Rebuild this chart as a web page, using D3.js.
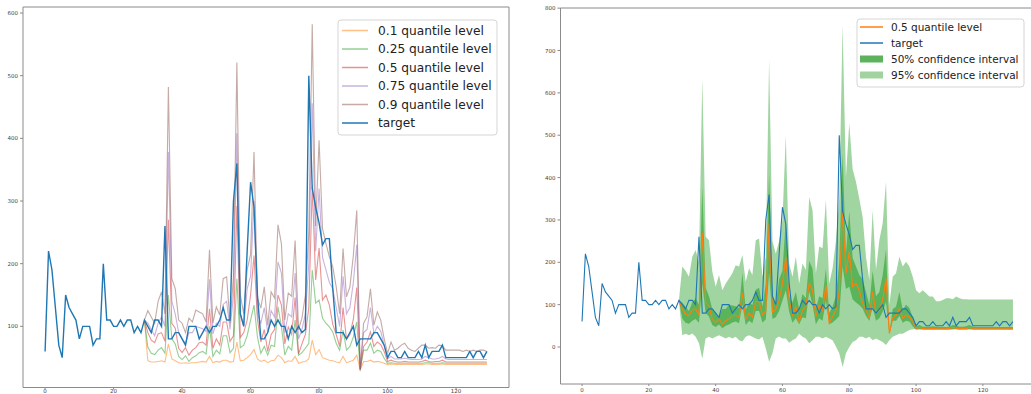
<!DOCTYPE html>
<html>
<head>
<meta charset="utf-8">
<script src="https://cdn.jsdelivr.net/npm/d3@7"></script>
<style>
  body { margin: 0; background: #fff; }
  svg { display: block; font-family: "DejaVu Sans", sans-serif; }
</style>
</head>
<body>
<svg id="chart" width="1031" height="394"></svg>
<script>
// observed series, t = 0..129
const target = [
  60, 220, 190, 130, 70, 50, 150, 130, 120, 110,
  80, 100, 100, 100, 70, 80, 80, 200, 110, 110,
  100, 100, 110, 100, 110, 110, 90, 100, 90, 110,
  100, 90, 110, 110, 100, 260, 80, 80, 90, 90,
  80, 70, 100, 100, 100, 80, 90, 100, 90, 100,
  100, 110, 130, 110, 110, 300, 360, 120, 100, 220,
  330, 290, 150, 80, 80, 90, 110, 100, 110, 100,
  100, 80, 100, 90, 100, 90, 95, 500, 320, 290,
  265, 230, 240, 240, 160, 90, 90, 90, 80, 90,
  100, 70, 80, 80, 80, 80, 90, 90, 80, 70,
  50, 60, 60, 50, 50, 60, 50, 50, 50, 60,
  50, 70, 50, 60, 60, 60, 70, 50, 50, 50,
  50, 50, 50, 50, 60, 50, 60, 60, 50, 60
];

// forecast starts at t = 29
const forecastStart = 29;

const q10 = [
  110, 45, 43, 43, 44, 45, 43, 72, 48, 45,
  42, 41, 42, 41, 42, 42, 43, 44, 43, 52,
  42, 44, 43, 46, 46, 43, 44, 75, 45, 46,
  50, 55, 63, 48, 44, 46, 42, 45, 46, 54,
  50, 42, 45, 44, 52, 41, 43, 44, 48, 78,
  55, 63, 50, 48, 46, 45, 43, 42, 52, 42,
  44, 46, 54, 30, 44, 44, 46, 43, 44, 43,
  41, 39, 40, 39, 39, 39, 39, 39, 39, 39,
  39, 39, 40, 40, 39, 39, 39, 40, 39, 39,
  39, 39, 39, 39, 39, 39, 39, 39, 39, 39, 39
];
const q25 = [
  110, 67, 57, 55, 62, 66, 57, 150, 80, 72,
  52, 47, 53, 44, 50, 53, 58, 60, 56, 100,
  52, 62, 56, 85, 85, 58, 65, 176, 66, 70,
  85, 110, 134, 83, 57, 68, 54, 70, 68, 131,
  100, 54, 68, 62, 110, 54, 58, 65, 73, 190,
  137, 142, 113, 105, 99, 91, 73, 62, 94, 62,
  68, 83, 107, 30, 62, 62, 73, 57, 62, 60,
  49, 41, 42, 41, 41, 41, 41, 41, 41, 41,
  41, 41, 42, 42, 41, 41, 41, 42, 41, 41,
  41, 41, 41, 41, 41, 41, 41, 41, 41, 41, 41
];
const q50 = [
  110, 90, 78, 74, 88, 90, 76, 270, 105, 97,
  65, 58, 66, 54, 62, 66, 74, 75, 70, 128,
  65, 80, 70, 107, 107, 76, 85, 292, 82, 90,
  110, 150, 213, 111, 75, 95, 60, 87, 95, 150,
  134, 72, 99, 87, 146, 56, 72, 87, 130, 323,
  174, 225, 142, 150, 134, 103, 87, 68, 130, 79,
  87, 111, 162, 32, 68, 75, 91, 68, 75, 71,
  60, 44, 46, 44, 43, 43, 44, 43, 43, 43,
  43, 44, 46, 44, 43, 44, 44, 46, 43, 43,
  43, 43, 43, 43, 43, 43, 43, 43, 43, 43, 43
];
const q75 = [
  110, 105, 95, 85, 105, 115, 100, 378, 140, 120,
  90, 80, 72, 90, 90, 100, 98, 96, 92, 175,
  88, 105, 100, 135, 140, 95, 150, 408, 120, 100,
  160, 180, 300, 120, 105, 130, 90, 125, 115, 203,
  185, 90, 120, 115, 185, 80, 95, 120, 200, 456,
  220, 320, 210, 190, 170, 160, 130, 100, 180, 120,
  130, 170, 230, 32, 90, 95, 130, 88, 100, 92,
  70, 48, 52, 48, 48, 48, 49, 48, 47, 47,
  47, 48, 52, 50, 48, 48, 49, 52, 48, 47,
  47, 47, 47, 47, 47, 47, 47, 47, 47, 47, 47
];
const q90 = [
  110, 125, 115, 105, 140, 155, 120, 482, 176, 160,
  110, 105, 90, 113, 107, 126, 123, 120, 107, 222,
  105, 131, 118, 176, 179, 105, 180, 521, 150, 120,
  190, 215, 378, 145, 129, 163, 102, 155, 145, 262,
  232, 110, 153, 148, 237, 95, 113, 150, 250, 582,
  260, 397, 256, 232, 211, 195, 163, 120, 224, 147,
  163, 213, 285, 30, 105, 115, 160, 102, 123, 110,
  80, 57, 75, 62, 65, 70, 73, 65, 62, 60,
  65, 70, 70, 65, 66, 65, 70, 69, 62, 62,
  62, 62, 62, 60, 62, 60, 62, 60, 62, 62, 60
];

// 95% interval bounds (right panel)
const ci95Low = [
  110, 28, 31, 28, 32, 24, 9, -27, 20, 24,
  20, 24, 28, 24, 20, 24, 20, 24, 16, 13,
  24, 28, 24, 20, 18, 24, -3, -35, -15, 20,
  25, 20, 20, 10, 16, 20, 31, 24, 20, 9,
  16, 24, 24, 20, 24, 20, 16, 1, -15, -47,
  -15, 0, 12, 16, 24, 24, 20, 24, 16, 20,
  16, 12, 5, 16, 24, 28, 31, 31, 36, 40,
  42, 42, 42, 42, 42, 42, 42, 42, 42, 42,
  42, 42, 42, 42, 42, 42, 42, 42, 42, 42,
  42, 42, 42, 42, 42, 42, 42, 42, 42, 42, 42
];
const ci95High = [
  110, 190, 180, 166, 213, 229, 200, 634, 260, 252,
  178, 142, 170, 134, 150, 162, 174, 193, 190, 217,
  154, 186, 170, 252, 256, 166, 213, 679, 250, 220,
  250, 300, 500, 197, 166, 213, 150, 197, 182, 354,
  323, 174, 237, 233, 347, 150, 186, 250, 350, 760,
  400, 528, 420, 390, 350, 307, 213, 158, 323, 182,
  252, 292, 390, 100, 166, 174, 213, 190, 201, 190,
  166, 134, 127, 134, 127, 119, 119, 108, 108, 111,
  115, 115, 113, 119, 115, 113, 113, 112, 112, 112,
  112, 112, 112, 112, 112, 112, 112, 112, 112, 112, 112
];

const xTicks = [0, 20, 40, 60, 80, 100, 120];
const yTicksLeft = [100, 200, 300, 400, 500, 600];
const yTicksRight = [0, 100, 200, 300, 400, 500, 600, 700, 800];

const quantileLabels = ['0.1 quantile level', '0.25 quantile level', '0.5 quantile level',
  '0.75 quantile level', '0.9 quantile level'];
const quantileColors = ['#ff7f0e', '#2ca02c', '#d62728', '#9467bd', '#8c564b'];
const blue = '#1f77b4';
const green = '#2ca02c';

const svg = d3.select('#chart');
const tT = d3.range(target.length);
const tF = d3.range(forecastStart, forecastStart + q50.length);

// matplotlib-like limits: data range plus 5% margins
function padded(ext) {
  const m = (ext[1] - ext[0]) * 0.05;
  return [ext[0] - m, ext[1] + m];
}

function axes(x, y, yTicks, box) {
  const g = svg.append('g');
  g.append('line').attr('x1', box.left).attr('x2', box.left)
    .attr('y1', box.top).attr('y2', box.bottom);
  g.append('line').attr('x1', box.left).attr('x2', box.right)
    .attr('y1', box.bottom).attr('y2', box.bottom);
  g.append('line').attr('x1', box.left).attr('x2', box.right)
    .attr('y1', box.top).attr('y2', box.top);
  if (box.right < 1031) {
    g.append('line').attr('x1', box.right).attr('x2', box.right)
      .attr('y1', box.top).attr('y2', box.bottom);
  }
  g.selectAll('line').attr('stroke', '#8a8a8a').attr('stroke-width', 1);

  xTicks.forEach(v => {
    g.append('line').attr('x1', x(v)).attr('x2', x(v))
      .attr('y1', box.bottom).attr('y2', box.bottom + 2)
      .attr('stroke', '#8a8a8a');
    g.append('text').attr('x', x(v)).attr('y', box.xLabelY)
      .attr('text-anchor', 'middle').attr('font-size', 5.5)
      .attr('fill', '#444').text(v);
  });
  yTicks.forEach(v => {
    g.append('line').attr('x1', box.left - 3).attr('x2', box.left)
      .attr('y1', y(v)).attr('y2', y(v)).attr('stroke', '#8a8a8a');
    g.append('text').attr('x', box.left - 5).attr('y', y(v) + 2)
      .attr('text-anchor', 'end').attr('font-size', 5.5)
      .attr('fill', '#444').text(v);
  });
}

// ---------- left panel ----------
{
  const box = { left: 23, right: 509, top: 7, bottom: 387.5, xLabelY: 393 };
  const x = d3.scaleLinear().domain(padded([0, target.length - 1])).range([box.left, box.right]);
  const all = target.concat(q10, q25, q50, q75, q90);
  const y = d3.scaleLinear().domain(padded(d3.extent(all))).range([box.bottom, box.top]);

  const line = d3.line().x(d => x(d[0])).y(d => y(d[1]));
  [q10, q25, q50, q75, q90].forEach((q, k) => {
    svg.append('path')
      .attr('d', line(q.map((v, i) => [tF[i], v])))
      .attr('fill', 'none').attr('stroke', quantileColors[k])
      .attr('stroke-opacity', 0.5).attr('stroke-width', 1.1);
  });
  svg.append('path')
    .attr('d', line(target.map((v, i) => [tT[i], v])))
    .attr('fill', 'none').attr('stroke', blue).attr('stroke-width', 1.4);

  axes(x, y, yTicksLeft, box);

  // legend
  const lg = svg.append('g').attr('transform', 'translate(338,20)');
  lg.append('rect').attr('width', 159).attr('height', 115).attr('rx', 3)
    .attr('fill', '#fff').attr('fill-opacity', 0.8)
    .attr('stroke', '#d5d5d5').attr('stroke-width', 1);
  const items = quantileLabels.map((l, k) => ({ l, c: quantileColors[k], o: 0.5 }))
    .concat([{ l: 'target', c: blue, o: 1 }]);
  items.forEach((it, k) => {
    const yy = 10.5 + k * 18.5;
    lg.append('line').attr('x1', 4).attr('x2', 30).attr('y1', yy).attr('y2', yy)
      .attr('stroke', it.c).attr('stroke-opacity', it.o).attr('stroke-width', 1.5);
    lg.append('text').attr('x', 40).attr('y', yy + 4.3)
      .attr('font-size', 12.2).attr('fill', '#222').text(it.l);
  });
}

// ---------- right panel ----------
{
  const box = { left: 560.5, right: 1034.5, top: 8, bottom: 384, xLabelY: 392 };
  const x = d3.scaleLinear().domain(padded([0, target.length - 1])).range([box.left, box.right]);
  const all = target.concat(ci95Low, ci95High, q25, q75, q50);
  const y = d3.scaleLinear().domain(padded(d3.extent(all))).range([box.bottom, box.top]);

  const area = (lo, hi) => d3.area()
    .x((d, i) => x(tF[i])).y0((d, i) => y(lo[i])).y1((d, i) => y(hi[i]))(lo);

  svg.append('path').attr('d', area(ci95Low, ci95High))
    .attr('fill', green).attr('fill-opacity', 0.45);
  svg.append('path').attr('d', area(q25, q75))
    .attr('fill', green).attr('fill-opacity', 0.6);

  const line = d3.line().x(d => x(d[0])).y(d => y(d[1]));
  svg.append('path')
    .attr('d', line(q50.map((v, i) => [tF[i], v])))
    .attr('fill', 'none').attr('stroke', '#ff7f0e').attr('stroke-width', 1.1);
  svg.append('path')
    .attr('d', line(target.map((v, i) => [tT[i], v])))
    .attr('fill', 'none').attr('stroke', blue).attr('stroke-width', 1.1);

  axes(x, y, yTicksRight, box);

  const lg = svg.append('g').attr('transform', 'translate(857,19)');
  lg.append('rect').attr('width', 167).attr('height', 68).attr('rx', 3)
    .attr('fill', '#fff').attr('fill-opacity', 0.8)
    .attr('stroke', '#d5d5d5').attr('stroke-width', 1);
  const rows = [
    { l: '0.5 quantile level', type: 'line', c: '#ff7f0e' },
    { l: 'target', type: 'line', c: blue },
    { l: '50% confidence interval', type: 'patch', c: '#5fb25c' },
    { l: '95% confidence interval', type: 'patch', c: '#a2d39f' }
  ];
  rows.forEach((r, k) => {
    const yy = 8 + k * 16;
    if (r.type === 'line') {
      lg.append('line').attr('x1', 3).attr('x2', 26).attr('y1', yy).attr('y2', yy)
        .attr('stroke', r.c).attr('stroke-width', 1.5);
    } else {
      lg.append('rect').attr('x', 3).attr('y', yy - 3.5).attr('width', 23).attr('height', 7)
        .attr('fill', r.c);
    }
    lg.append('text').attr('x', 34).attr('y', yy + 3.8)
      .attr('font-size', 10.5).attr('fill', '#222').text(r.l);
  });
}
</script>
</body>
</html>
